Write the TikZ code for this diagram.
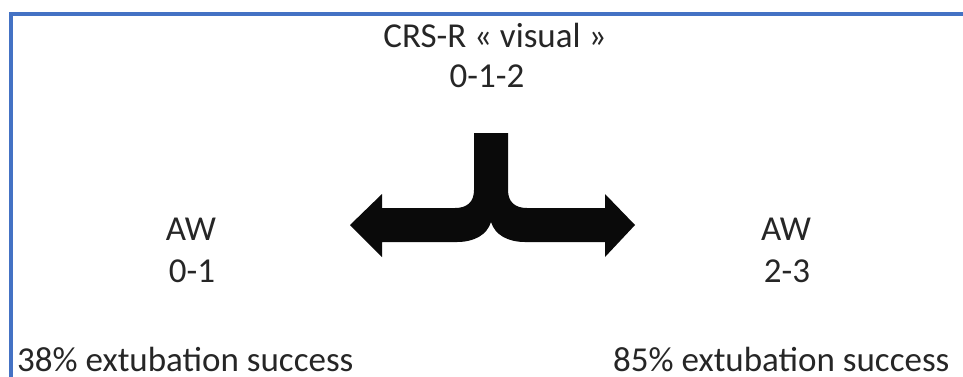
\documentclass[tikz,border=0pt]{standalone}
\usepackage{fontspec}
\setmainfont{Carlito}
\definecolor{frameblue}{RGB}{68,114,196}
\definecolor{arrowblack}{RGB}{10,10,10}
\begin{document}
\begin{tikzpicture}[x=1pt,y=-1pt,
  lbl/.style={inner sep=0pt,font=\fontsize{35}{40}\selectfont,text=black!85}]
\useasboundingbox (0,0) rectangle (963,376);
\clip (0,0) rectangle (963,376);
% frame
\draw[frameblue,line width=4pt] (10.5,380) -- (10.5,14) -- (970,14);
% texts
\node[lbl,anchor=base] (top1) at (495,47) {CRS-R « visual »};
\node[lbl,anchor=base] (top2) at (487,87) {0-1-2};
\node[lbl,anchor=base] (lt1) at (191,240) {AW};
\node[lbl,anchor=base] (lt2) at (192,282) {0-1};
\node[lbl,anchor=base] (rt1) at (786,240) {AW};
\node[lbl,anchor=base] (rt2) at (787,282) {2-3};
\node[lbl,anchor=base west] (lb) at (17,371) {38\% extubation success};
\node[lbl,anchor=base west] (rb) at (613,371) {85\% extubation success};
% split arrow
\fill[arrowblack] (474,133) -- (508,133) -- (508,190)
  .. controls (508,202) and (515,208) .. (527,208)
  -- (605,208) -- (605,194) -- (635,225) -- (605,257) -- (605,242)
  -- (525,242) .. controls (508,242) and (495,235) .. (491,222)
  .. controls (487,235) and (474,242) .. (457,242)
  -- (382,242) -- (382,257) -- (350,225) -- (382,194) -- (382,208)
  -- (455,208) .. controls (467,208) and (474,202) .. (474,190) -- cycle;
\end{tikzpicture}
\end{document}
